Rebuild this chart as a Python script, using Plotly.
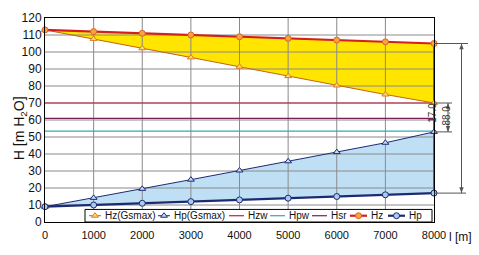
import plotly.graph_objects as go

# ---------------- data ----------------
dist = [0, 1000, 2000, 3000, 4000, 5000, 6000, 7000, 8000]
hz = [113, 112, 111, 110, 109, 108, 107, 106, 105]
hz_gsmax = [113, 107.7, 102.2, 96.8, 91.3, 85.8, 80.3, 75.0, 70]
hp = [9, 10, 11, 12, 13, 14, 15, 16, 17]
hp_gsmax = [9, 14.2, 19.5, 24.9, 30.3, 35.7, 41.1, 46.6, 53]
hzw = 70
hsr = 61
hpw = 53.5
x_ticks = [0, 1000, 2000, 3000, 4000, 5000, 6000, 7000, 8000]
y_ticks = [0, 10, 20, 30, 40, 50, 60, 70, 80, 90, 100, 110, 120]
legend_names = ["Hz(Gsmax)", "Hp(Gsmax)", "Hzw", "Hpw", "Hsr", "Hz", "Hp"]

# ---------------- layout constants ----------------
W, H = 479, 255
ML, MR, MT, MB = 45, 45, 11, 33
PW, PH = W - ML - MR, H - MT - MB
FONT = "Liberation Sans, Arial, sans-serif"

YELLOW = "#FFE500"
LBLUE = "#BFE0F4"
RED = "#D3201E"
ORANGE = "#F5A53A"
BROWN = "#C2621C"
NAVY = "#1D2A72"
HZW_C = "#C21E3C"
HSR_C = "#7A1E5A"
HPW_C = "#33A9B8"
GRID = "#8A8A8A"
DIM = "#555555"

def px2paper_x(px):
    return (px - ML) / PW

def py2paper_y(py):
    return (H - MB - py) / PH

fig = go.Figure()

# fills (drawn first, gridlines go on top)
fig.add_trace(go.Scatter(x=dist, y=hz_gsmax, mode="lines", line=dict(width=0),
                         showlegend=False, hoverinfo="skip"))
fig.add_trace(go.Scatter(x=dist, y=hz, mode="lines", line=dict(width=0),
                         fill="tonexty", fillcolor=YELLOW, showlegend=False, hoverinfo="skip"))
fig.add_trace(go.Scatter(x=dist, y=hp, mode="lines", line=dict(width=0),
                         showlegend=False, hoverinfo="skip"))
fig.add_trace(go.Scatter(x=dist, y=hp_gsmax, mode="lines", line=dict(width=0),
                         fill="tonexty", fillcolor=LBLUE, showlegend=False, hoverinfo="skip"))

# gridlines as traces (above fills, below data lines)
gx, gy = [], []
for t in x_ticks[1:-1]:
    gx += [t, t, None]
    gy += [y_ticks[0], y_ticks[-1], None]
for t in y_ticks[1:-1]:
    gx += [x_ticks[0], x_ticks[-1], None]
    gy += [t, t, None]
fig.add_trace(go.Scatter(x=gx, y=gy, mode="lines", line=dict(color=GRID, width=1),
                         showlegend=False, hoverinfo="skip"))

# reference horizontal lines
for val, col in [(hpw, HPW_C), (hsr, HSR_C), (hzw, HZW_C)]:
    fig.add_trace(go.Scatter(x=[dist[0], dist[-1]], y=[val, val], mode="lines",
                             line=dict(color=col, width=1.2), showlegend=False, hoverinfo="skip"))

# vertical red line at the end
fig.add_trace(go.Scatter(x=[dist[-1], dist[-1]], y=[hp[-1], hz[-1]], mode="lines",
                         line=dict(color="#E5302A", width=2), showlegend=False, hoverinfo="skip",
                         cliponaxis=False))

# data series
fig.add_trace(go.Scatter(x=dist, y=hz_gsmax, mode="lines+markers",
                         line=dict(color=BROWN, width=1),
                         marker=dict(symbol="triangle-up", size=6, color="#FCD86A",
                                     line=dict(color="#E07A20", width=1)),
                         showlegend=False, cliponaxis=False))
fig.add_trace(go.Scatter(x=dist, y=hp_gsmax, mode="lines+markers",
                         line=dict(color=NAVY, width=1),
                         marker=dict(symbol="triangle-up", size=6, color="#C4DCF2",
                                     line=dict(color=NAVY, width=1)),
                         showlegend=False, cliponaxis=False))
fig.add_trace(go.Scatter(x=dist, y=hz, mode="lines+markers",
                         line=dict(color=RED, width=2.2),
                         marker=dict(symbol="circle", size=6, color=ORANGE,
                                     line=dict(color="#E0602A", width=1)),
                         showlegend=False, cliponaxis=False))
fig.add_trace(go.Scatter(x=dist, y=hp, mode="lines+markers",
                         line=dict(color=NAVY, width=2.2),
                         marker=dict(symbol="circle", size=6, color="#A9CBEF",
                                     line=dict(color=NAVY, width=1)),
                         showlegend=False, cliponaxis=False))

# ---------------- custom legend (overlay axes in [0,1]) ----------------
lb_x0, lb_x1 = px2paper_x(85), px2paper_x(432)
lb_y0, lb_y1 = 0.0, py2paper_y(209)
fig.add_trace(go.Scatter(x=[lb_x0, lb_x1, lb_x1, lb_x0, lb_x0], y=[lb_y0, lb_y0, lb_y1, lb_y1, lb_y0],
                         mode="lines", fill="toself", fillcolor="white",
                         line=dict(color="black", width=1), xaxis="x2", yaxis="y2",
                         showlegend=False, hoverinfo="skip"))
ly = py2paper_y(215.5)
leg_items = [
    # (line x0 px, line x1 px, text px, line color, width, marker symbol, marker fill, marker line)
    (89, 101, 103, BROWN, 1, "triangle-up", "#FCD86A", "#E07A20"),
    (158, 170, 172, NAVY, 1, "triangle-up", "#C4DCF2", NAVY),
    (229, 244, 246, HZW_C, 1.2, None, None, None),
    (270, 285, 287, HPW_C, 1.2, None, None, None),
    (312, 327, 329, HSR_C, 1.2, None, None, None),
    (350, 367, 369, RED, 2.2, "circle", ORANGE, "#E0602A"),
    (388, 405, 407, NAVY, 2.2, "circle", "#A9CBEF", NAVY),
]
for name, (a, b, tx, col, w, sym, mfill, mline) in zip(legend_names, leg_items):
    fig.add_trace(go.Scatter(x=[px2paper_x(a), px2paper_x(b)], y=[ly, ly], mode="lines",
                             line=dict(color=col, width=w), xaxis="x2", yaxis="y2",
                             showlegend=False, hoverinfo="skip"))
    if sym:
        fig.add_trace(go.Scatter(x=[px2paper_x((a + b) / 2)], y=[ly], mode="markers",
                                 marker=dict(symbol=sym, size=6, color=mfill, line=dict(color=mline, width=1)),
                                 xaxis="x2", yaxis="y2", showlegend=False, hoverinfo="skip"))
    fig.add_annotation(x=px2paper_x(tx), y=ly, xref="paper", yref="paper", text=name,
                       showarrow=False, xanchor="left", yanchor="middle",
                       font=dict(family=FONT, size=10, color="#111"))

# ---------------- dimension marks on the right ----------------
shapes = []
unit = PH / (y_ticks[-1] - y_ticks[0])  # px per data unit

def hline(v, px0, px1):
    shapes.append(dict(type="line", xref="paper", yref="y", x0=px2paper_x(px0), x1=px2paper_x(px1),
                       y0=v, y1=v, line=dict(color=DIM, width=1)))

def varrow(px, v0, v1):
    xp = px2paper_x(px)
    shapes.append(dict(type="line", xref="paper", yref="y", x0=xp, x1=xp, y0=v0, y1=v1,
                       line=dict(color=DIM, width=1)))
    hw = 2.2 / PW
    hh = 6 / unit
    lo, hi = min(v0, v1), max(v0, v1)
    shapes.append(dict(type="path", xref="paper", yref="y",
                       path=f"M {xp} {hi} L {xp - hw} {hi - hh} L {xp + hw} {hi - hh} Z",
                       fillcolor=DIM, line=dict(width=0)))
    shapes.append(dict(type="path", xref="paper", yref="y",
                       path=f"M {xp} {lo} L {xp - hw} {lo + hh} L {xp + hw} {lo + hh} Z",
                       fillcolor=DIM, line=dict(width=0)))

hline(hz[-1], 434, 468)
hline(hp[-1], 434, 466)
hline(hz_gsmax[-1], 434, 452)
hline(hp_gsmax[-1], 434, 452)
varrow(448, hp_gsmax[-1], hz_gsmax[-1])
varrow(461.5, hp[-1], hz[-1])

small = hz_gsmax[-1] - hp_gsmax[-1]
big = hz[-1] - hp[-1]
mid = (hz_gsmax[-1] + hp_gsmax[-1]) / 2
fig.add_annotation(x=px2paper_x(440.5), y=mid + 2.8, xref="paper", yref="y", text=f"{small:.1f}",
                   textangle=-90, showarrow=False, font=dict(family=FONT, size=10, color="#333"))
fig.add_annotation(x=px2paper_x(454), y=mid + 0.8, xref="paper", yref="y", text=f"{big:.1f}",
                   textangle=-90, showarrow=False, font=dict(family=FONT, size=10, color="#333"))

# axis titles as annotations
fig.add_annotation(x=px2paper_x(447), y=py2paper_y(237), xref="paper", yref="paper",
                   text="l [m]", showarrow=False, xanchor="left", yanchor="middle",
                   font=dict(family=FONT, size=12, color="#111"))
fig.add_annotation(x=px2paper_x(20), y=py2paper_y(125), xref="paper", yref="paper",
                   text="H [m H<sub>2</sub>O]", textangle=-90, showarrow=False,
                   xanchor="center", yanchor="middle",
                   font=dict(family=FONT, size=14, color="#111"))

fig.update_layout(
    width=W, height=H,
    margin=dict(l=ML, r=MR, t=MT, b=MB, pad=0),
    paper_bgcolor="white", plot_bgcolor="white",
    font=dict(family=FONT, size=11, color="#111"),
    showlegend=False,
    shapes=shapes,
    xaxis=dict(range=[x_ticks[0], x_ticks[-1]], tickvals=x_ticks, showgrid=False, zeroline=False,
               showline=True, linecolor="black", linewidth=1, mirror=True, ticks="",
               ticklabelstandoff=3,
               tickfont=dict(family=FONT, size=11, color="#111")),
    yaxis=dict(range=[y_ticks[0], y_ticks[-1]], tickvals=y_ticks, showgrid=False, zeroline=False,
               showline=True, linecolor="black", linewidth=1, mirror=True, ticks="",
               tickfont=dict(family=FONT, size=12, color="#111")),
    xaxis2=dict(overlaying="x", range=[0, 1], visible=False, fixedrange=True),
    yaxis2=dict(overlaying="y", range=[0, 1], visible=False, fixedrange=True),
)

fig.write_html("out.html")
